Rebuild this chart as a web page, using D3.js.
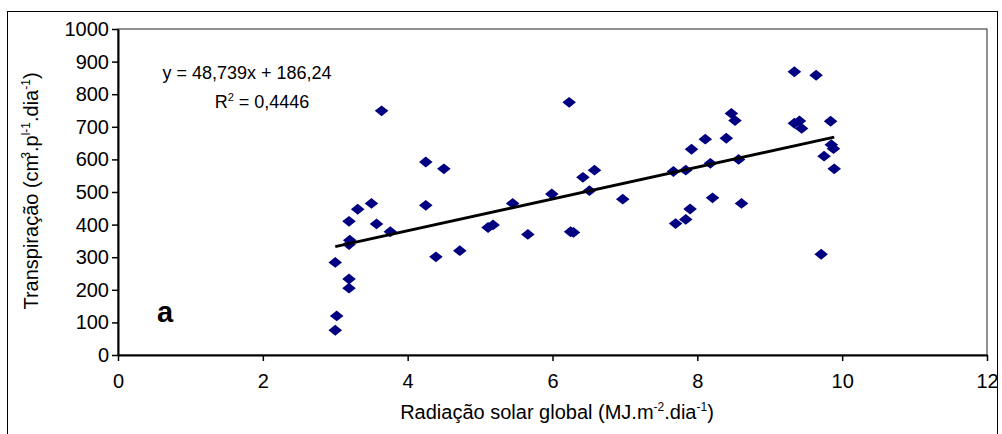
<!DOCTYPE html>
<html>
<head>
<meta charset="utf-8">
<script src="https://cdn.jsdelivr.net/npm/d3@7"></script>
<style>
  html, body { margin: 0; padding: 0; background: #fff; }
  svg { display: block; font-family: "Liberation Sans", Arial, sans-serif; }
</style>
</head>
<body>
<div class="chart-container"></div>
<script>
// Radiação solar global (MJ.m-2.dia-1)
const radiacao = [3.00, 3.02, 3.00, 3.19, 3.19, 3.19, 3.20, 3.19, 3.31, 3.50,
  3.57, 3.64, 3.76, 4.25, 4.25, 4.39, 4.50, 4.72, 5.11, 5.18,
  5.45, 5.66, 5.99, 6.23, 6.25, 6.29, 6.42, 6.51, 6.58, 6.97,
  7.67, 7.70, 7.84, 7.84, 7.90, 7.92, 8.11, 8.18, 8.21, 8.40,
  8.47, 8.52, 8.57, 8.61, 9.34, 9.34, 9.41, 9.44, 9.64, 9.71,
  9.75, 9.84, 9.85, 9.88, 9.89]

// Transpiração (cm3.p-1.dia-1)
const transpiracao = [76, 120, 284, 205, 233, 339, 352, 410, 447, 465,
  402, 749, 378, 592, 459, 301, 571, 320, 391, 399,
  465, 370, 494, 775, 378, 376, 545, 504, 567, 478,
  563, 403, 416, 567, 448, 631, 662, 588, 482, 665,
  741, 719, 600, 465, 869, 711, 718, 695, 858, 309,
  610, 717, 645, 633, 571]

const xTicks = [0, 2, 4, 6, 8, 10, 12]
const yTicks = [0, 100, 200, 300, 400, 500, 600, 700, 800, 900, 1000]

// trend line given in the chart
const slope = 48.739
const intercept = 186.24

const width = 1002, height = 434
const margin = {top: 29, right: 15, bottom: 79, left: 118}

const svg = d3.select(".chart-container").append("svg")
  .attr("width", width)
  .attr("height", height)

//Outer frame of the chart
svg.append("rect")
  .attr("x", 7.5).attr("y", 11.5)
  .attr("width", 990).attr("height", 440)
  .attr("fill", "none")
  .attr("stroke", "#000")
  .attr("stroke-width", 1)

const x = d3.scaleLinear()
  .domain([0, 12])
  .range([margin.left, width - margin.right])

const y = d3.scaleLinear()
  .domain([0, 1000])
  .range([height - margin.bottom, margin.top])

//Plot area border (top and right)
svg.append("rect")
  .attr("x", x(0)).attr("y", y(1000))
  .attr("width", x(12) - x(0)).attr("height", y(0) - y(1000))
  .attr("fill", "none")
  .attr("stroke", "#222")
  .attr("stroke-width", 1)

const xAxis = g => g
  .attr("transform", `translate(0,${y(0)})`)
  .call(d3.axisBottom(x).tickValues(xTicks).tickFormat(d3.format("d"))
    .tickSize(6).tickPadding(13).tickSizeOuter(0))
  .call(g => g.select(".domain").attr("stroke-width", 2))
  .call(g => g.selectAll(".tick line").attr("stroke-width", 1.5))

const yAxis = g => g
  .attr("transform", `translate(${x(0)},0)`)
  .call(d3.axisLeft(y).tickValues(yTicks).tickFormat(d3.format("d"))
    .tickSize(6).tickPadding(3).tickSizeOuter(0))
  .call(g => g.select(".domain").attr("stroke-width", 2))
  .call(g => g.selectAll(".tick line").attr("stroke-width", 1.5))

svg.append("g").call(xAxis)
svg.append("g").call(yAxis)

svg.selectAll(".tick text")
  .attr("font-family", "Liberation Sans, Arial, sans-serif")
  .attr("font-size", 20)
  .attr("fill", "#000")

//Points as navy diamonds
const points = radiacao.map((d, i) => ({x: d, y: transpiracao[i]}))
const diamond = d3.symbol().type(d3.symbolSquare).size(92)

svg.append("g")
  .selectAll("path")
  .data(points)
  .join("path")
  .attr("d", diamond)
  .attr("transform", d => `translate(${x(d.x)},${y(d.y)}) scale(1,0.8) rotate(45)`)
  .attr("fill", "#000080")

//Linear trend line over the data range
const xr = d3.extent(radiacao)
const line = d3.line()
  .x(d => x(d))
  .y(d => y(slope * d + intercept))

svg.append("path")
  .datum(xr)
  .attr("fill", "none")
  .attr("stroke", "#000")
  .attr("stroke-width", 3)
  .attr("d", line)

//Equation and R2
svg.append("text")
  .attr("x", 247).attr("y", 79)
  .attr("text-anchor", "middle")
  .attr("font-size", 18)
  .text("y = 48,739x + 186,24")

const r2 = svg.append("text")
  .attr("x", 262).attr("y", 108)
  .attr("text-anchor", "middle")
  .attr("font-size", 18)
r2.append("tspan").text("R")
r2.append("tspan").attr("dy", -7).attr("font-size", 11).text("2")
r2.append("tspan").attr("dy", 7).text(" = 0,4446")

//Panel letter
svg.append("text")
  .attr("x", 157).attr("y", 322)
  .attr("font-size", 29)
  .attr("font-weight", "bold")
  .text("a")

//Axis titles
const xt = svg.append("text")
  .attr("x", 557).attr("y", 419)
  .attr("text-anchor", "middle")
  .attr("font-size", 20)
xt.append("tspan").text("Radiação solar global (MJ.m")
xt.append("tspan").attr("dy", -8).attr("font-size", 12).text("-2")
xt.append("tspan").attr("dy", 8).text(".dia")
xt.append("tspan").attr("dy", -8).attr("font-size", 12).text("-1")
xt.append("tspan").attr("dy", 8).text(")")

const yt = svg.append("text")
  .attr("transform", "translate(38,191) rotate(-90)")
  .attr("text-anchor", "middle")
  .attr("font-size", 20)
yt.append("tspan").text("Transpiração (cm")
yt.append("tspan").attr("dy", -8).attr("dx", -4).attr("font-size", 12).text("3")
yt.append("tspan").attr("dy", 8).text(".p")
yt.append("tspan").attr("dy", -8).attr("font-size", 12).text("l-1")
yt.append("tspan").attr("dy", 8).text(".dia")
yt.append("tspan").attr("dy", -8).attr("font-size", 12).text("-1")
yt.append("tspan").attr("dy", 8).text(")")
</script>
</body>
</html>
